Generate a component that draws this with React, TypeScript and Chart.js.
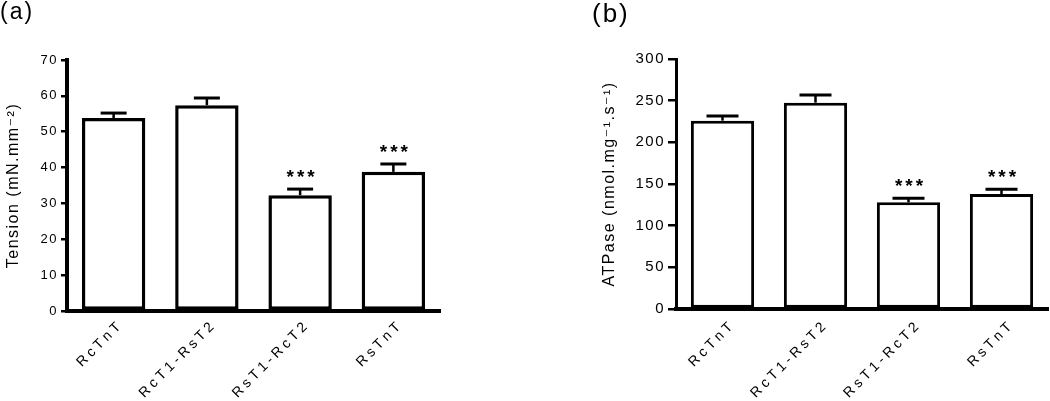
import React, { useEffect, useRef } from "react";
import { Chart, registerables } from "chart.js";

Chart.register(...registerables);

// ---- data ----
const categories = ["RcTnT", "RcT1-RsT2", "RsT1-RcT2", "RsTnT"];
const tensionMeans = [53.8, 57.4, 32.3, 38.8];
const tensionErrors = [1.4, 2.0, 1.7, 2.2];
const atpaseMeans = [226, 247.6, 128, 138];
const atpaseErrors = [5.6, 9.2, 4.8, 5.6];
const significance = ["", "", "***", "***"];
const tensionTicks = { min: 0, max: 70, step: 10 };
const atpaseTicks = { min: 0, max: 300, step: 50 };
const tensionTitle = "Tension (mN.mm⁻²)";
const atpaseTitle = "ATPase (nmol.mg⁻¹.s⁻¹)";
const panelLabels = ["(a)", "(b)"];

const FONT = '"Liberation Sans", "DejaVu Sans", sans-serif';

type Panel = {
  label: string;
  title: string;
  means: number[];
  errors: number[];
  ticks: { min: number; max: number; step: number };
  left: number;
  width: number;
  padLeft: number;
  padRight: number;
  padTop: number;
  yAxisWidth: number;
  xAxisHeight: number;
  tickFont: number;
  tickLen: number;
  yBorder: number;
  xBorder: number;
  barBorder: number;
  cap: number;
  labelDx: number;
  labelDy: number;
  panelLabelX: number;
  panelLabelY: number;
  panelLabelSize: number;
};

const panels: Panel[] = [
  {
    label: panelLabels[0],
    title: tensionTitle,
    means: tensionMeans,
    errors: tensionErrors,
    ticks: tensionTicks,
    left: 0,
    width: 525,
    padLeft: 0,
    padRight: 85,
    padTop: 60,
    yAxisWidth: 67,
    xAxisHeight: 90,
    tickFont: 13,
    tickLen: 6,
    yBorder: 4,
    xBorder: 4,
    barBorder: 3.5,
    cap: 26,
    labelDx: 5,
    labelDy: 14,
    panelLabelX: 0,
    panelLabelY: 13,
    panelLabelSize: 23,
  },
  {
    label: panelLabels[1],
    title: atpaseTitle,
    means: atpaseMeans,
    errors: atpaseErrors,
    ticks: atpaseTicks,
    left: 525,
    width: 525,
    padLeft: 71,
    padRight: 2,
    padTop: 59,
    yAxisWidth: 80,
    xAxisHeight: 92,
    tickFont: 15,
    tickLen: 8,
    yBorder: 3,
    xBorder: 4,
    barBorder: 3,
    cap: 32,
    labelDx: 8,
    labelDy: 16,
    panelLabelX: 67,
    panelLabelY: 15,
    panelLabelSize: 26,
  },
];

// draw text right-aligned at (0,0) in the current (rotated) frame with manual letter spacing
function spacedTextRight(ctx: CanvasRenderingContext2D, text: string, spacing: number) {
  const chars = Array.from(text);
  const widths = chars.map((c) => ctx.measureText(c).width);
  const total = widths.reduce((a, b) => a + b, 0) + spacing * (chars.length - 1);
  let x = -total;
  ctx.textAlign = "left";
  chars.forEach((c, i) => {
    ctx.fillText(c, x, 0);
    x += widths[i] + spacing;
  });
}

function makePlugin(p: Panel) {
  return {
    id: "decor",
    beforeDraw(chart: any) {
      chart.ctx.letterSpacing = "1.5px";
    },
    afterDatasetsDraw(chart: any) {
      const ctx = chart.ctx;
      const y = chart.scales.y;
      const meta = chart.getDatasetMeta(0);
      ctx.save();
      ctx.strokeStyle = "#000";
      ctx.fillStyle = "#000";
      meta.data.forEach((bar: any, i: number) => {
        const x = bar.x;
        const top = y.getPixelForValue(p.means[i]);
        const end = y.getPixelForValue(p.means[i] + p.errors[i]);
        ctx.lineWidth = 2.5;
        ctx.beginPath();
        ctx.moveTo(x, top);
        ctx.lineTo(x, end);
        ctx.stroke();
        ctx.lineWidth = 3;
        ctx.beginPath();
        ctx.moveTo(x - p.cap / 2, end);
        ctx.lineTo(x + p.cap / 2, end);
        ctx.stroke();
        if (significance[i]) {
          ctx.font = `bold 19px ${FONT}`;
          ctx.letterSpacing = "3px";
          ctx.textAlign = "center";
          ctx.textBaseline = "bottom";
          ctx.fillText(significance[i], x + 2, end - 2);
        }
      });
      ctx.restore();
    },
    afterDraw(chart: any) {
      const ctx = chart.ctx;
      const xs = chart.scales.x;
      ctx.save();
      ctx.fillStyle = "#000";
      (chart.data.labels as string[]).forEach((lab, i) => {
        const px = xs.getPixelForTick(i);
        ctx.save();
        ctx.letterSpacing = "0px";
        ctx.translate(px + p.labelDx, xs.top + p.labelDy);
        ctx.rotate((-45 * Math.PI) / 180);
        ctx.font = `14px ${FONT}`;
        ctx.textBaseline = "middle";
        spacedTextRight(ctx, lab, 3.5);
        ctx.restore();
      });
      ctx.font = `${p.panelLabelSize}px ${FONT}`;
      ctx.letterSpacing = "2px";
      ctx.textAlign = "left";
      ctx.textBaseline = "middle";
      ctx.fillText(p.label, p.panelLabelX, p.panelLabelY);
      ctx.restore();
    },
  };
}

function PanelChart({ p }: { p: Panel }) {
  const ref = useRef<HTMLCanvasElement | null>(null);
  useEffect(() => {
    if (!ref.current) return;
    const chart = new Chart(ref.current, {
      type: "bar",
      data: {
        labels: categories,
        datasets: [
          {
            data: p.means,
            backgroundColor: "#ffffff",
            borderColor: "#000000",
            borderWidth: p.barBorder,
            borderSkipped: false,
            categoryPercentage: 1,
            barPercentage: 0.68,
          },
        ],
      },
      options: {
        animation: false,
        responsive: false,
        devicePixelRatio: 1,
        layout: {
          padding: { left: p.padLeft, right: p.padRight, top: p.padTop, bottom: 0 },
        },
        plugins: {
          legend: { display: false },
          tooltip: { enabled: false },
          title: { display: false },
        },
        scales: {
          x: {
            type: "category",
            grid: { display: false },
            border: { display: true, color: "#000", width: p.xBorder },
            ticks: { display: false },
            afterFit(scale: any) {
              scale.height = p.xAxisHeight;
            },
          },
          y: {
            min: p.ticks.min,
            max: p.ticks.max,
            ticks: {
              stepSize: p.ticks.step,
              color: "#000",
              padding: 3,
              font: { family: FONT, size: p.tickFont },
            },
            grid: {
              display: true,
              drawOnChartArea: false,
              drawTicks: true,
              tickLength: p.tickLen,
              color: "#000",
              lineWidth: 2.5,
            },
            border: { display: true, color: "#000", width: p.yBorder },
            title: {
              display: true,
              text: p.title,
              color: "#000",
              font: { family: FONT, size: 16 },
              padding: { top: 4, bottom: 4 },
            },
            afterFit(scale: any) {
              scale.width = p.yAxisWidth;
            },
          },
        },
      } as any,
      plugins: [makePlugin(p)],
    });
    return () => chart.destroy();
  }, [p]);
  return (
    <canvas
      ref={ref}
      width={p.width}
      height={401}
      style={{ position: "absolute", left: p.left, top: 0, width: p.width, height: 401 }}
    />
  );
}

export default function App() {
  useEffect(() => {
    document.body.style.margin = "0";
  }, []);
  return (
    <div style={{ position: "relative", width: 1050, height: 401, background: "#fff", overflow: "hidden" }}>
      {panels.map((p) => (
        <PanelChart key={p.label} p={p} />
      ))}
    </div>
  );
}
